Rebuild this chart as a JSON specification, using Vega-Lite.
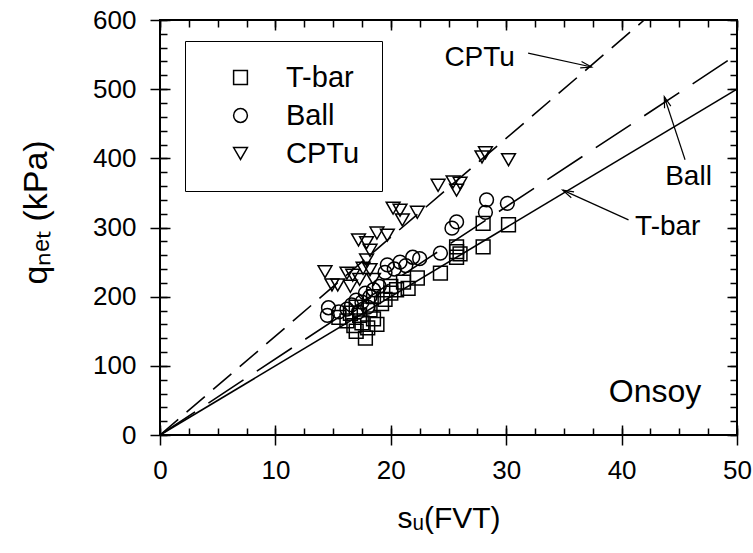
{
  "$schema": "https://vega.github.io/schema/vega-lite/v6.json",
  "width": 577,
  "height": 415,
  "autosize": {"type": "none"},
  "padding": {"left": 160, "top": 20, "right": 16, "bottom": 118},
  "background": "white",
  "config": {
    "view": {"stroke": "black", "strokeWidth": 2},
    "axis": {"labelFont": "Liberation Sans", "labelFontSize": 26, "labelColor": "black", "labelFlush": false, "tickColor": "black", "tickWidth": 1.5, "domain": false, "grid": false, "titleFont": "Liberation Sans", "titleFontSize": 30, "titleFontWeight": "normal", "titleColor": "black"}
  },
  "datasets": {
    "pts": [
      {"method": "T-bar", "su": 15.5, "q": 170}, {"method": "T-bar", "su": 16.2, "q": 165}, {"method": "T-bar", "su": 16.5, "q": 176},
      {"method": "T-bar", "su": 16.8, "q": 158}, {"method": "T-bar", "su": 17.0, "q": 150}, {"method": "T-bar", "su": 17.3, "q": 173},
      {"method": "T-bar", "su": 17.5, "q": 162}, {"method": "T-bar", "su": 17.8, "q": 140}, {"method": "T-bar", "su": 18.0, "q": 155},
      {"method": "T-bar", "su": 18.2, "q": 181}, {"method": "T-bar", "su": 18.5, "q": 168}, {"method": "T-bar", "su": 18.8, "q": 160},
      {"method": "T-bar", "su": 19.2, "q": 190}, {"method": "T-bar", "su": 19.5, "q": 196}, {"method": "T-bar", "su": 20.0, "q": 205},
      {"method": "T-bar", "su": 20.5, "q": 210}, {"method": "T-bar", "su": 21.1, "q": 221}, {"method": "T-bar", "su": 21.5, "q": 212},
      {"method": "T-bar", "su": 22.3, "q": 227}, {"method": "T-bar", "su": 24.3, "q": 234}, {"method": "T-bar", "su": 25.7, "q": 257},
      {"method": "T-bar", "su": 25.7, "q": 265}, {"method": "T-bar", "su": 25.7, "q": 272}, {"method": "T-bar", "su": 26.0, "q": 262},
      {"method": "T-bar", "su": 28.0, "q": 272}, {"method": "T-bar", "su": 28.0, "q": 306}, {"method": "T-bar", "su": 30.2, "q": 304},
      {"method": "T-bar", "su": 17.0, "q": 185}, {"method": "T-bar", "su": 18.5, "q": 200}, {"method": "T-bar", "su": 20.0, "q": 215},
      {"method": "Ball", "su": 14.6, "q": 184}, {"method": "Ball", "su": 14.5, "q": 173}, {"method": "Ball", "su": 15.5, "q": 178},
      {"method": "Ball", "su": 16.2, "q": 182}, {"method": "Ball", "su": 16.6, "q": 188}, {"method": "Ball", "su": 17.0, "q": 195},
      {"method": "Ball", "su": 17.5, "q": 192}, {"method": "Ball", "su": 17.8, "q": 205}, {"method": "Ball", "su": 18.2, "q": 200},
      {"method": "Ball", "su": 18.5, "q": 210}, {"method": "Ball", "su": 18.0, "q": 185}, {"method": "Ball", "su": 19.0, "q": 215},
      {"method": "Ball", "su": 19.5, "q": 235}, {"method": "Ball", "su": 19.7, "q": 246}, {"method": "Ball", "su": 20.3, "q": 240},
      {"method": "Ball", "su": 20.8, "q": 250}, {"method": "Ball", "su": 21.9, "q": 257}, {"method": "Ball", "su": 21.3, "q": 245},
      {"method": "Ball", "su": 22.5, "q": 255}, {"method": "Ball", "su": 24.3, "q": 263}, {"method": "Ball", "su": 25.3, "q": 299},
      {"method": "Ball", "su": 25.7, "q": 308}, {"method": "Ball", "su": 28.2, "q": 322}, {"method": "Ball", "su": 28.3, "q": 340},
      {"method": "Ball", "su": 30.1, "q": 335}, {"method": "Ball", "su": 17.2, "q": 178},
      {"method": "CPTu", "su": 14.3, "q": 236}, {"method": "CPTu", "su": 14.9, "q": 217}, {"method": "CPTu", "su": 15.4, "q": 217},
      {"method": "CPTu", "su": 16.2, "q": 234}, {"method": "CPTu", "su": 16.7, "q": 231}, {"method": "CPTu", "su": 17.3, "q": 225},
      {"method": "CPTu", "su": 17.6, "q": 241}, {"method": "CPTu", "su": 17.9, "q": 253}, {"method": "CPTu", "su": 18.2, "q": 239},
      {"method": "CPTu", "su": 18.2, "q": 267}, {"method": "CPTu", "su": 17.2, "q": 282}, {"method": "CPTu", "su": 17.9, "q": 278},
      {"method": "CPTu", "su": 18.8, "q": 292}, {"method": "CPTu", "su": 19.7, "q": 289}, {"method": "CPTu", "su": 16.5, "q": 215},
      {"method": "CPTu", "su": 20.2, "q": 328}, {"method": "CPTu", "su": 20.8, "q": 325}, {"method": "CPTu", "su": 21.0, "q": 311},
      {"method": "CPTu", "su": 22.3, "q": 322}, {"method": "CPTu", "su": 24.1, "q": 361}, {"method": "CPTu", "su": 25.4, "q": 366},
      {"method": "CPTu", "su": 26.0, "q": 364}, {"method": "CPTu", "su": 25.7, "q": 354}, {"method": "CPTu", "su": 27.9, "q": 402},
      {"method": "CPTu", "su": 28.2, "q": 408}, {"method": "CPTu", "su": 30.2, "q": 398}, {"method": "CPTu", "su": 18.5, "q": 225}
    ],
    "fits": [
      {"fit": "T-bar", "su": 0, "q": 0}, {"fit": "T-bar", "su": 50, "q": 500},
      {"fit": "Ball", "su": 0, "q": 0}, {"fit": "Ball", "su": 50, "q": 550},
      {"fit": "CPTu", "su": 0, "q": 0}, {"fit": "CPTu", "su": 41.96, "q": 600}
    ],
    "labels": [
      {"label": "CPTu", "su": 27.7, "q": 545},
      {"label": "Ball", "su": 45.8, "q": 373},
      {"label": "T-bar", "su": 44.0, "q": 301}
    ],
    "arrows": [
      {"label": "CPTu", "su": 31.9, "q": 552, "su2": 37.4, "q2": 532},
      {"label": "Ball", "su": 45.5, "q": 398, "su2": 43.7, "q2": 489},
      {"label": "T-bar", "su": 40.6, "q": 311, "su2": 34.9, "q2": 354}
    ],
    "site": [{"label": "Onsoy", "su": 42.9, "q": 62}]
  },
  "resolve": {"axis": {"x": "independent", "y": "independent"}},
  "layer": [
    {
      "data": {"name": "pts"},
      "mark": {"type": "point", "filled": false, "color": "black", "strokeWidth": 1.5, "size": 190, "opacity": 1},
      "encoding": {
        "x": {"field": "su", "type": "quantitative", "scale": {"domain": [0, 50], "nice": false},
          "axis": {"orient": "bottom", "values": [0, 10, 20, 30, 40, 50], "tickSize": 10, "labelPadding": 12, "title": "sᵤ(FVT)", "titlePadding": 20}},
        "y": {"field": "q", "type": "quantitative", "scale": {"domain": [0, 600], "nice": false},
          "axis": {"orient": "left", "values": [0, 100, 200, 300, 400, 500, 600], "tickSize": 10, "labelPadding": 14, "title": "qₙₑₜ (kPa)", "titleFontSize": 34, "titleX": -124, "titleY": 192, "titleBaseline": "middle", "titleAlign": "center", "titleAngle": -90}},
        "shape": {"field": "method", "type": "nominal",
          "scale": {"domain": ["T-bar", "Ball", "CPTu"], "range": ["square", "circle", "triangle-down"]},
          "legend": {"title": null, "orient": "none", "legendX": 25, "legendY": 21, "padding": 22, "rowPadding": 8,
            "symbolOffset": 19, "labelOffset": 31, "labelFontSize": 29, "labelFont": "Liberation Sans", "labelColor": "black",
            "symbolSize": 190, "symbolStrokeColor": "black", "symbolStrokeWidth": 1.5, "symbolFillColor": "white",
            "strokeColor": "black", "labelLimit": 0,
            "encode": {"legend": {"update": {"strokeWidth": {"value": 2}}}}}
        }
      }
    },
    {
      "data": {"name": "fits"},
      "transform": [{"filter": "datum.fit === 'T-bar'"}],
      "mark": {"type": "line", "color": "black", "strokeWidth": 1.6},
      "encoding": {
        "x": {"field": "su", "type": "quantitative", "scale": {"domain": [0, 50], "nice": false},
          "axis": {"orient": "bottom", "values": [0, 2.5, 5, 7.5, 10, 12.5, 15, 17.5, 20, 22.5, 25, 27.5, 30, 32.5, 35, 37.5, 40, 42.5, 45, 47.5, 50], "tickSize": -7, "labels": false, "title": null}},
        "y": {"field": "q", "type": "quantitative", "scale": {"domain": [0, 600], "nice": false},
          "axis": {"orient": "left", "values": [0, 20, 40, 60, 80, 100, 120, 140, 160, 180, 200, 220, 240, 260, 280, 300, 320, 340, 360, 380, 400, 420, 440, 460, 480, 500, 520, 540, 560, 580, 600], "tickSize": -7, "labels": false, "title": null}}
      }
    },
    {
      "data": {"name": "fits"},
      "transform": [{"filter": "datum.fit === 'Ball'"}],
      "mark": {"type": "line", "color": "black", "strokeWidth": 1.6, "strokeDash": [42, 16]},
      "encoding": {
        "x": {"field": "su", "type": "quantitative", "scale": {"domain": [0, 50], "nice": false},
          "axis": {"orient": "top", "values": [0, 2.5, 5, 7.5, 10, 12.5, 15, 17.5, 20, 22.5, 25, 27.5, 30, 32.5, 35, 37.5, 40, 42.5, 45, 47.5, 50], "tickSize": -7, "labels": false, "title": null}},
        "y": {"field": "q", "type": "quantitative", "scale": {"domain": [0, 600], "nice": false},
          "axis": {"orient": "right", "values": [0, 20, 40, 60, 80, 100, 120, 140, 160, 180, 200, 220, 240, 260, 280, 300, 320, 340, 360, 380, 400, 420, 440, 460, 480, 500, 520, 540, 560, 580, 600], "tickSize": -7, "labels": false, "title": null}}
      }
    },
    {
      "data": {"name": "fits"},
      "transform": [{"filter": "datum.fit === 'CPTu'"}],
      "mark": {"type": "line", "color": "black", "strokeWidth": 1.6, "strokeDash": [24, 11]},
      "encoding": {
        "x": {"field": "su", "type": "quantitative", "scale": {"domain": [0, 50], "nice": false},
          "axis": {"orient": "top", "values": [0, 10, 20, 30, 40, 50], "tickSize": -10, "labels": false, "title": null}},
        "y": {"field": "q", "type": "quantitative", "scale": {"domain": [0, 600], "nice": false},
          "axis": {"orient": "right", "values": [0, 100, 200, 300, 400, 500, 600], "tickSize": -10, "labels": false, "title": null}}
      }
    },
    {
      "data": {"name": "labels"},
      "mark": {"type": "text", "font": "Liberation Sans", "fontSize": 28, "color": "black", "align": "center", "baseline": "middle"},
      "encoding": {
        "x": {"field": "su", "type": "quantitative", "scale": {"domain": [0, 50], "nice": false},
          "axis": {"orient": "bottom", "values": [0, 10, 20, 30, 40, 50], "tickSize": -10, "labels": false, "title": null}},
        "y": {"field": "q", "type": "quantitative", "scale": {"domain": [0, 600], "nice": false},
          "axis": {"orient": "left", "values": [0, 100, 200, 300, 400, 500, 600], "tickSize": -10, "labels": false, "title": null}},
        "text": {"field": "label"}
      }
    },
    {
      "data": {"name": "site"},
      "mark": {"type": "text", "font": "Liberation Sans", "fontSize": 32, "color": "black", "align": "center", "baseline": "middle"},
      "encoding": {
        "x": {"field": "su", "type": "quantitative", "scale": {"domain": [0, 50], "nice": false}, "axis": null},
        "y": {"field": "q", "type": "quantitative", "scale": {"domain": [0, 600], "nice": false}, "axis": null},
        "text": {"field": "label"}
      }
    },
    {
      "data": {"name": "arrows"},
      "mark": {"type": "rule", "color": "black", "strokeWidth": 1.2},
      "encoding": {
        "x": {"field": "su", "type": "quantitative", "scale": {"domain": [0, 50], "nice": false}, "axis": null},
        "y": {"field": "q", "type": "quantitative", "scale": {"domain": [0, 600], "nice": false}, "axis": null},
        "x2": {"field": "su2"},
        "y2": {"field": "q2"}
      }
    },
    {
      "data": {"name": "arrows"},
      "transform": [{"filter": "datum.label === 'CPTu'"}],
      "mark": {"type": "point", "shape": "M-2,-0.6L0,0L-2,0.6", "filled": false, "color": "black", "strokeWidth": 1.2, "size": 120, "angle": 12, "opacity": 1},
      "encoding": {
        "x": {"field": "su2", "type": "quantitative", "scale": {"domain": [0, 50], "nice": false}, "axis": null},
        "y": {"field": "q2", "type": "quantitative", "scale": {"domain": [0, 600], "nice": false}, "axis": null}
      }
    },
    {
      "data": {"name": "arrows"},
      "transform": [{"filter": "datum.label === 'Ball'"}],
      "mark": {"type": "point", "shape": "M-2,-0.6L0,0L-2,0.6", "filled": false, "color": "black", "strokeWidth": 1.2, "size": 120, "angle": 252, "opacity": 1},
      "encoding": {
        "x": {"field": "su2", "type": "quantitative", "scale": {"domain": [0, 50], "nice": false}, "axis": null},
        "y": {"field": "q2", "type": "quantitative", "scale": {"domain": [0, 600], "nice": false}, "axis": null}
      }
    },
    {
      "data": {"name": "arrows"},
      "transform": [{"filter": "datum.label === 'T-bar'"}],
      "mark": {"type": "point", "shape": "M-2,-0.6L0,0L-2,0.6", "filled": false, "color": "black", "strokeWidth": 1.2, "size": 120, "angle": 205, "opacity": 1},
      "encoding": {
        "x": {"field": "su2", "type": "quantitative", "scale": {"domain": [0, 50], "nice": false}, "axis": null},
        "y": {"field": "q2", "type": "quantitative", "scale": {"domain": [0, 600], "nice": false}, "axis": null}
      }
    }
  ]
}
